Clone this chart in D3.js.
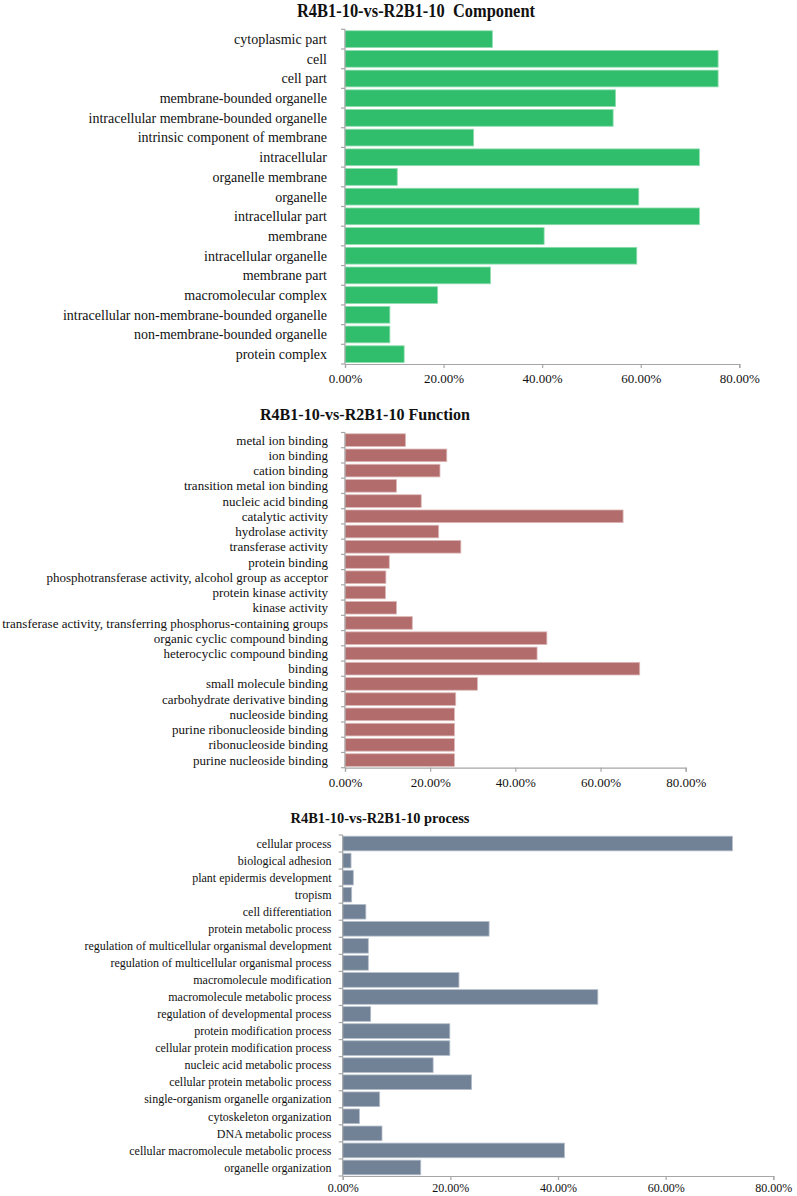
<!DOCTYPE html>
<html>
<head>
<meta charset="utf-8">
<script src="https://cdn.jsdelivr.net/npm/d3@7"></script>
<style>
  html, body { margin: 0; padding: 0; background: #fff; }
  svg { display: block; }
  text { font-family: "Liberation Serif", "Times New Roman", serif; fill: #111; }
</style>
</head>
<body>
<svg id="chart" width="797" height="1196"></svg>
<script>
// ---------- DATA ----------
const componentTitle = "R4B1-10-vs-R2B1-10\u00a0\u00a0Component";
const componentCategories = [
  "cytoplasmic part", "cell", "cell part", "membrane-bounded organelle",
  "intracellular membrane-bounded organelle", "intrinsic component of membrane",
  "intracellular", "organelle membrane", "organelle", "intracellular part",
  "membrane", "intracellular organelle", "membrane part", "macromolecular complex",
  "intracellular non-membrane-bounded organelle", "non-membrane-bounded organelle",
  "protein complex"
];
const componentValues = [29.9, 75.7, 75.7, 54.9, 54.4, 26.1, 71.9, 10.6, 59.6, 71.9,
  40.4, 59.2, 29.5, 18.8, 9.1, 9.1, 12.0];

const functionTitle = "R4B1-10-vs-R2B1-10 Function";
const functionCategories = [
  "metal ion binding", "ion binding", "cation binding", "transition metal ion binding",
  "nucleic acid binding", "catalytic activity", "hydrolase activity", "transferase activity",
  "protein binding", "phosphotransferase activity, alcohol group as acceptor",
  "protein kinase activity", "kinase activity",
  "transferase activity, transferring phosphorus-containing groups",
  "organic cyclic compound binding", "heterocyclic compound binding", "binding",
  "small molecule binding", "carbohydrate derivative binding", "nucleoside binding",
  "purine ribonucleoside binding", "ribonucleoside binding", "purine nucleoside binding"
];
const functionValues = [14.2, 23.9, 22.3, 12.1, 17.9, 65.3, 22.0, 27.2, 10.4, 9.6, 9.5,
  12.1, 15.8, 47.4, 45.1, 69.2, 31.1, 26.0, 25.7, 25.7, 25.7, 25.7];

const processTitle = "R4B1-10-vs-R2B1-10 process";
const processCategories = [
  "cellular process", "biological adhesion", "plant epidermis development", "tropism",
  "cell differentiation", "protein metabolic process",
  "regulation of multicellular organismal development",
  "regulation of multicellular organismal process", "macromolecule modification",
  "macromolecule metabolic process", "regulation of developmental process",
  "protein modification process", "cellular protein modification process",
  "nucleic acid metabolic process", "cellular protein metabolic process",
  "single-organism organelle organization", "cytoskeleton organization",
  "DNA metabolic process", "cellular macromolecule metabolic process",
  "organelle organization"
];
const processValues = [72.4, 1.55, 1.97, 1.67, 4.3, 27.2, 4.76, 4.76, 21.6, 47.4, 5.2,
  19.9, 19.9, 16.8, 23.95, 6.87, 3.1, 7.3, 41.2, 14.5];

const xTickValues = [0, 20, 40, 60, 80];
const xTickLabels = ["0.00%", "20.00%", "40.00%", "60.00%", "80.00%"];

// ---------- DRAWING ----------
const svg = d3.select("#chart");
const axisColor = "#a6a6a6";
const serif = "'Liberation Serif', 'Times New Roman', serif";

function drawPanel(cfg) {
  const g = svg.append("g");
  const x = d3.scaleLinear().domain([0, 80]).range([cfg.x0, cfg.x80]);
  const y = d3.scaleBand().domain(cfg.categories).range([cfg.top, cfg.bottom])
    .paddingInner(cfg.pad).paddingOuter(cfg.pad / 2);
  const step = y.step();

  g.append("text")
    .attr("x", cfg.titleX).attr("y", cfg.titleY)
    .attr("text-anchor", "middle")
    .attr("font-family", serif)
    .attr("font-weight", "bold")
    .attr("font-size", cfg.titleSize)
    .attr("textLength", cfg.titleWidth)
    .attr("lengthAdjust", "spacingAndGlyphs")
    .text(cfg.title);

  g.selectAll("rect.bar").data(cfg.categories).enter().append("rect")
    .attr("class", "bar")
    .attr("x", x(0))
    .attr("y", d => y(d))
    .attr("width", (d, i) => x(cfg.values[i]) - x(0))
    .attr("height", y.bandwidth())
    .attr("fill", cfg.color)
    .attr("stroke", cfg.stroke)
    .attr("stroke-width", 0.8);

  g.append("line")
    .attr("x1", x(0)).attr("x2", x(0))
    .attr("y1", cfg.top).attr("y2", cfg.bottom)
    .attr("stroke", axisColor).attr("stroke-width", 1.2);
  const boundaries = cfg.categories.map(d => y(d) - step * cfg.pad / 2).concat([cfg.bottom]);
  g.selectAll("line.ytick").data(boundaries).enter().append("line")
    .attr("class", "ytick")
    .attr("x1", x(0) - 4).attr("x2", x(0))
    .attr("y1", d => d).attr("y2", d => d)
    .attr("stroke", axisColor).attr("stroke-width", 1.2);

  g.selectAll("text.cat").data(cfg.categories).enter().append("text")
    .attr("class", "cat")
    .attr("x", cfg.labelRight)
    .attr("y", d => y(d) + y.bandwidth() / 2)
    .attr("dy", "0.35em")
    .attr("text-anchor", "end")
    .attr("font-family", serif)
    .attr("font-size", cfg.labelSize)
    .text(d => d);

  const xAxis = d3.axisBottom(x).tickValues(xTickValues)
    .tickFormat((d, i) => xTickLabels[i]).tickSize(4).tickPadding(cfg.tickPad);
  const ax = g.append("g").attr("transform", `translate(0,${cfg.bottom})`).call(xAxis);
  ax.select(".domain").attr("stroke", axisColor).attr("stroke-width", 1.2);
  ax.selectAll(".tick line").attr("stroke", axisColor).attr("stroke-width", 1.2);
  ax.selectAll(".tick text")
    .attr("font-family", serif)
    .attr("font-size", cfg.tickSize).attr("fill", "#111");
}

drawPanel({
  title: componentTitle, titleX: 416, titleY: 17, titleSize: 18, titleWidth: 238,
  categories: componentCategories, values: componentValues,
  x0: 345, x80: 739.3, top: 29.3, bottom: 364, pad: 0.15,
  labelRight: 327, labelSize: 14, tickSize: 13, tickPad: 6,
  color: "#30BE6D", stroke: "#8fdcae"
});

drawPanel({
  title: functionTitle, titleX: 365, titleY: 420, titleSize: 16, titleWidth: 210,
  categories: functionCategories, values: functionValues,
  x0: 345, x80: 685.7, top: 432.5, bottom: 767.7, pad: 0.17,
  labelRight: 328, labelSize: 13, tickSize: 13, tickPad: 6,
  color: "#B36C6C", stroke: "#ddb8b8"
});

drawPanel({
  title: processTitle, titleX: 380, titleY: 823, titleSize: 14, titleWidth: 179,
  categories: processCategories, values: processValues,
  x0: 342.7, x80: 773.3, top: 835, bottom: 1176, pad: 0.14,
  labelRight: 331.5, labelSize: 12, tickSize: 12, tickPad: 3,
  color: "#718196", stroke: "#b5bfcb"
});
</script>
</body>
</html>
